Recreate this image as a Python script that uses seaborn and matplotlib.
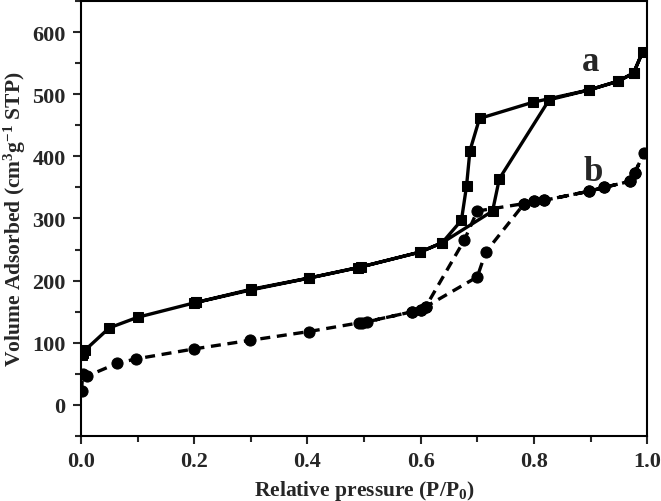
import numpy as np
import pandas as pd
import seaborn as sns
import matplotlib
matplotlib.use("Agg")
import matplotlib.pyplot as plt
from matplotlib.ticker import MultipleLocator, FormatStrFormatter

# sample a: adsorption then desorption branch (closed loop)
p_a = [0.001, 0.004, 0.007, 0.05, 0.1, 0.199, 0.204, 0.300, 0.402, 0.490, 0.599, 0.638, 0.727, 0.739, 0.827, 0.898, 0.949, 0.976, 0.992,
       0.976, 0.949, 0.898, 0.798, 0.704, 0.687, 0.681, 0.672, 0.638, 0.599, 0.494, 0.402, 0.300, 0.204]
v_a = [80, 84, 88, 124, 141, 164, 165, 185, 204, 221, 246, 261, 312, 364, 491, 507, 521, 534, 568,
       534, 521, 507, 487, 461, 409, 352, 297, 261, 246, 222, 204, 186, 165]

# sample b
p_b = [0.001, 0.003, 0.01, 0.064, 0.097, 0.199, 0.299, 0.402, 0.491, 0.506, 0.585, 0.600, 0.609, 0.700, 0.715, 0.783, 0.800, 0.817, 0.898, 0.924, 0.970, 0.978, 0.994,
       0.978, 0.970, 0.924, 0.898, 0.817, 0.800, 0.783, 0.700, 0.677, 0.609, 0.600, 0.585, 0.497]
v_b = [23, 50, 46, 67, 74, 90, 104, 118, 132, 134, 150, 153, 158, 206, 246, 324, 328, 329, 344, 350, 360, 373, 405,
       373, 360, 350, 344, 329, 328, 324, 312, 265, 158, 153, 150, 132]

df_a = pd.DataFrame({"p": p_a, "v": v_a})
df_b = pd.DataFrame({"p": p_b, "v": v_b})

sns.set_theme(style="ticks")
plt.rcParams['font.family'] = ['Liberation Serif', 'DejaVu Serif']
plt.rcParams['font.weight'] = 'bold'
plt.rcParams['mathtext.fontset'] = 'custom'
plt.rcParams['mathtext.rm'] = 'Liberation Serif:bold'
plt.rcParams['mathtext.it'] = 'Liberation Serif:bold'
plt.rcParams['mathtext.bf'] = 'Liberation Serif:bold'

fig = plt.figure(figsize=(6.61, 5.02), dpi=100)
ax = fig.add_axes([0.1225, 0.1295, 0.8565, 0.8665])

sns.lineplot(data=df_a, x="p", y="v", sort=False, estimator=None, ax=ax, color="black",
             linewidth=2.4, marker="s", markersize=7, markeredgecolor="black")
sns.lineplot(data=df_b, x="p", y="v", sort=False, estimator=None, ax=ax, color="black",
             linewidth=2.4, linestyle=(0, (3, 2)), marker="o", markersize=8, markeredgecolor="black")

ax.text(0.90, 553, "a", fontsize=25, fontweight="bold", ha="center", va="center")
ax.text(0.905, 376, "b", fontsize=25, fontweight="bold", ha="center", va="center")

ax.set_xlim(0, 1.0)
ax.set_ylim(-50, 650)
ax.xaxis.set_major_locator(MultipleLocator(0.2))
ax.xaxis.set_minor_locator(MultipleLocator(0.1))
ax.xaxis.set_major_formatter(FormatStrFormatter("%.1f"))
ax.yaxis.set_major_locator(MultipleLocator(100))
ax.yaxis.set_minor_locator(MultipleLocator(50))
ax.tick_params(which="major", direction="out", length=6, width=1.5, labelsize=16, pad=5)
ax.tick_params(which="minor", direction="out", length=4, width=1.5)
for s in ax.spines.values():
    s.set_linewidth(1.5)
    s.set_color("black")

ax.set_xlabel("Relative pressure (P/P$_0$)", fontsize=15.5, fontweight="bold", labelpad=5)
ax.set_ylabel("Volume Adsorbed (cm$^3$g$^{-1}$ STP)", fontsize=15.5, fontweight="bold", labelpad=3)

fig.savefig("out.png", dpi=100, facecolor="white")
